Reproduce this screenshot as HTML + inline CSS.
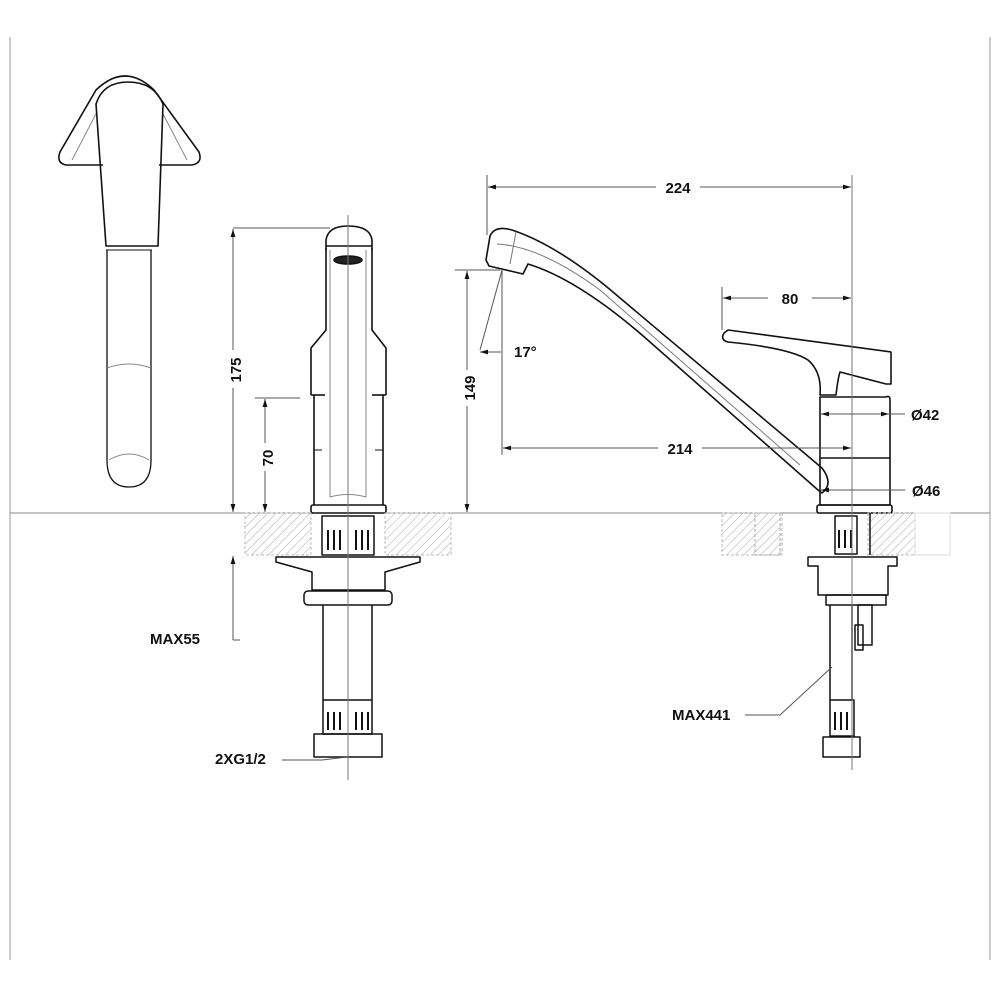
<!DOCTYPE html>
<html><head><meta charset="utf-8"><style>
html,body{margin:0;padding:0;background:#fff}
svg{display:block}
text{font-family:"Liberation Sans",Arial,sans-serif;font-weight:bold;fill:#111}
</style></head><body>
<svg width="1000" height="1000" viewBox="0 0 1000 1000" xmlns="http://www.w3.org/2000/svg">
<defs>
<pattern id="h" width="6" height="6" patternUnits="userSpaceOnUse" patternTransform="rotate(45)">
<line x1="0" y1="0" x2="0" y2="6" stroke="#aaa" stroke-width="1"/>
</pattern>
<marker id="a" viewBox="0 0 10 6" refX="10" refY="3" markerWidth="8" markerHeight="5" orient="auto-start-reverse"><path d="M0,0 L10,3 L0,6z" fill="#111"/></marker>
</defs>
<line x1="10" y1="37" x2="10" y2="960" stroke="#ccc" stroke-width="2"/>
<line x1="990" y1="37" x2="990" y2="960" stroke="#ccc" stroke-width="2"/>
<line x1="10" y1="513" x2="990" y2="513" stroke="#888" stroke-width="1"/>

<g fill="none" stroke="#111" stroke-width="1.6" stroke-linejoin="round">
<path d="M103,165 L66,165 Q56,163 60,152 L96,90 Q125,62 154,90 L199,152 Q203,163 192,165 L159,165"/>
<path d="M72,160 L97,112 M187,160 L162,112" stroke="#888" stroke-width="1"/>
<path d="M96,104 Q103,82 128,82 Q154,82 163,104 L158,246 L106,246 Z"/>
<line x1="106" y1="250" x2="152" y2="250" stroke-width="1"/>
<path d="M107,250 L107,460 Q107,487 129,487 Q151,487 151,460 L151,250" stroke-width="1.3"/>
<path d="M107,368 Q129,360 151,368" stroke="#888" stroke-width="1"/>
<path d="M109,460 Q129,448 149,460" stroke="#888" stroke-width="1"/>

<path d="M326,250 L326,240 Q328,226 348,226 Q370,226 372,240 L372,250"/>
<line x1="326" y1="246" x2="372" y2="246"/>
<path d="M326,248 L326,330 L311,348 L311,395 M372,248 L372,330 L386,348 L386,395"/>
<line x1="311" y1="395" x2="325" y2="395"/><line x1="372" y1="395" x2="386" y2="395"/>
<path d="M314,395 L314,505 M383,395 L383,505"/>
<path d="M330,250 L330,497 Q348,492 366,497 L366,250" stroke="#888" stroke-width="1"/>
<line x1="314" y1="450" x2="322" y2="450" stroke-width="1"/><line x1="375" y1="450" x2="383" y2="450" stroke-width="1"/>
<rect x="311" y="505" width="75" height="8" rx="2"/>
<ellipse cx="348" cy="260" rx="14" ry="4" fill="#222"/>
</g>
<rect x="245" y="513" width="66" height="42" fill="url(#h)" stroke="#bbb" stroke-dasharray="3,2"/>
<rect x="385" y="513" width="66" height="42" fill="url(#h)" stroke="#bbb" stroke-dasharray="3,2"/>
<g fill="none" stroke="#111" stroke-width="1.5" stroke-linejoin="round">
<path d="M322,516 L374,516 L374,555 L322,555 Z"/>
<path d="M328,530 v20 M334,530 v20 M340,530 v20 M356,530 v20 M362,530 v20 M368,530 v20" stroke-width="2"/>
<path d="M276,557 L420,557 L420,562 L385,572 L385,590 L312,590 L312,572 L276,562 Z"/>
<rect x="304" y="591" width="88" height="14" rx="4"/>
<path d="M323,605 L323,700 M372,605 L372,700"/>
<rect x="323" y="700" width="49" height="34"/>
<path d="M328,712 v18 M334,712 v18 M340,712 v18 M356,712 v18 M362,712 v18 M368,712 v18" stroke-width="2"/>
<rect x="314" y="734" width="68" height="23"/>
</g>
<line x1="348" y1="215" x2="348" y2="780" stroke="#777" stroke-width="1"/>

<g stroke="#555" stroke-width="1" fill="none">
<line x1="233" y1="228" x2="330" y2="228"/>
<line x1="233" y1="229" x2="233" y2="512" marker-start="url(#a)" marker-end="url(#a)"/>
<line x1="255" y1="398" x2="300" y2="398"/>
<line x1="265" y1="399" x2="265" y2="512" marker-start="url(#a)" marker-end="url(#a)"/>
<line x1="233" y1="556" x2="233" y2="640" marker-start="url(#a)"/>
<line x1="233" y1="640" x2="240" y2="640"/>
<polyline points="282,760 322,760 347,757"/>
</g>
<rect x="225" y="350" width="18" height="38" fill="#fff"/>
<text transform="translate(241,370) rotate(-90)" font-size="15" text-anchor="middle">175</text>
<rect x="256" y="443" width="18" height="28" fill="#fff"/>
<text transform="translate(273,458) rotate(-90)" font-size="15" text-anchor="middle">70</text>
<text x="150" y="644" font-size="15">MAX55</text>
<text x="215" y="764" font-size="15">2XG1/2</text>

<g fill="none" stroke="#111" stroke-width="1.6" stroke-linejoin="round">
<path d="M486,260 L490,236 Q495,225 512,230 Q560,246 620,298 L822,468 Q834,484 822,493 L818,490 L650,342 Q580,280 528,264 L523,274 L489,266 Z"/>
<path d="M516,232 L510,264 M497,244 Q540,246 600,290 L800,465" stroke="#777" stroke-width="1"/>
<path d="M724,333 Q720,340 728,342 Q790,348 808,360 Q822,372 820,395 L836,395 Q838,378 840,372 L886,384 L891,384 L891,352 L728,330 Z"/>
<path d="M820,397 L886,397 Q890,395 890,400 L890,505 L820,505 Z"/>
<line x1="820" y1="458" x2="890" y2="458"/>
<rect x="817" y="505" width="75" height="8" rx="2"/>
</g>
<rect x="722" y="513" width="60" height="42" fill="url(#h)" stroke="#bbb" stroke-dasharray="3,2"/>
<rect x="755" y="513" width="25" height="42" fill="none" stroke="#aaa" stroke-dasharray="3,2"/>
<rect x="868" y="513" width="47" height="42" fill="url(#h)" stroke="#bbb" stroke-dasharray="3,2"/>
<rect x="915" y="513" width="35" height="42" fill="none" stroke="#ddd"/>
<g fill="none" stroke="#111" stroke-width="1.5" stroke-linejoin="round">
<rect x="835" y="516" width="22" height="38"/>
<path d="M839,530 v18 M845,530 v18 M851,530 v18" stroke-width="2"/>
<line x1="870" y1="513" x2="870" y2="555"/>
<path d="M808,557 L897,557 L897,566 L888,566 L888,595 L818,595 L818,566 L808,566 Z"/>
<rect x="826" y="595" width="60" height="10"/>
<path d="M830,605 L830,700 M852,605 L852,700"/>
<rect x="858" y="605" width="14" height="40"/><rect x="855" y="625" width="8" height="25"/>
<rect x="830" y="700" width="24" height="36"/>
<path d="M835,712 v18 M841,712 v18 M847,712 v18" stroke-width="2"/>
<rect x="823" y="737" width="37" height="20"/>
</g>
<line x1="852" y1="175" x2="852" y2="770" stroke="#777" stroke-width="1"/>

<g stroke="#555" stroke-width="1" fill="none">
<line x1="487" y1="175" x2="487" y2="235"/>
<line x1="488" y1="187" x2="851" y2="187" marker-start="url(#a)" marker-end="url(#a)"/>
<line x1="722" y1="287" x2="722" y2="330"/>
<line x1="723" y1="298" x2="851" y2="298" marker-start="url(#a)" marker-end="url(#a)"/>
<line x1="455" y1="270" x2="500" y2="270"/>
<line x1="467" y1="271" x2="467" y2="512" marker-start="url(#a)" marker-end="url(#a)"/>
<line x1="502" y1="270" x2="502" y2="455"/>
<line x1="502" y1="270" x2="480" y2="350"/>
<line x1="480" y1="352" x2="501" y2="352" marker-start="url(#a)"/>
<line x1="503" y1="448" x2="851" y2="448" marker-start="url(#a)" marker-end="url(#a)"/>
<line x1="821" y1="414" x2="905" y2="414" marker-start="url(#a)"/>
<line x1="880" y1="414" x2="889" y2="414" marker-end="url(#a)"/>
<line x1="821" y1="490" x2="905" y2="490" marker-start="url(#a)"/>
<polyline points="745,715 780,715 832,667"/>
</g>
<rect x="656" y="180" width="44" height="16" fill="#fff"/>
<text x="678" y="193" font-size="15" text-anchor="middle">224</text>
<rect x="768" y="290" width="44" height="16" fill="#fff"/>
<text x="790" y="304" font-size="15" text-anchor="middle">80</text>
<rect x="658" y="440" width="44" height="16" fill="#fff"/>
<text x="680" y="454" font-size="15" text-anchor="middle">214</text>
<rect x="458" y="370" width="18" height="36" fill="#fff"/>
<text transform="translate(475,388) rotate(-90)" font-size="15" text-anchor="middle">149</text>
<text x="514" y="357" font-size="15">17°</text>
<text x="911" y="420" font-size="15">Ø42</text>
<text x="912" y="496" font-size="15">Ø46</text>
<text x="672" y="720" font-size="15">MAX441</text>
</svg>
</body></html>
